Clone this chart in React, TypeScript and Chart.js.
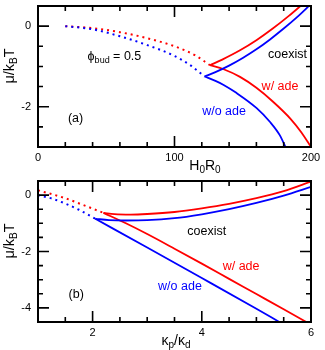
import React, { useEffect, useRef } from 'react';
import { Chart, registerables } from 'chart.js';

Chart.register(...registerables);

const RED = '#ff0000';
const BLUE = '#0000ff';
const FONT = '"Liberation Sans", Arial, Helvetica, sans-serif';

// ---------- Panel (a): mu/kBT vs H0R0 ----------
const aXTickValues = [0, 100, 200];
const aYTickValues = [0, -2];

const aRedDotX = [20, 40, 60, 80, 100, 115, 126];
const aRedDotY = [0, -0.05, -0.15, -0.3, -0.5, -0.72, -0.97];
const aBlueDotX = [20, 40, 60, 80, 100, 112, 122];
const aBlueDotY = [0, -0.08, -0.25, -0.47, -0.74, -0.98, -1.25];

const aRedUpX = [126, 135, 148, 160, 172, 184, 197];
const aRedUpY = [-0.97, -0.83, -0.6, -0.35, -0.06, 0.26, 0.64];
const aBlueUpX = [122, 130, 140, 150, 160, 170, 180, 190, 200];
const aBlueUpY = [-1.25, -1.14, -0.98, -0.79, -0.575, -0.33, -0.06, 0.23, 0.55];
const aRedLowX = [126, 136, 148, 160, 172, 185, 193, 200];
const aRedLowY = [-0.97, -1.07, -1.26, -1.53, -1.87, -2.3, -2.64, -3.0];
const aBlueLowX = [122, 130, 136, 145, 160, 170, 177, 182];
const aBlueLowY = [-1.25, -1.36, -1.46, -1.65, -2.03, -2.38, -2.7, -3.05];

// ---------- Panel (b): mu/kBT vs kappa_p/kappa_d ----------
const bXTickValues = [2, 4, 6];
const bYTickValues = [0, -2, -4];

const bRedDotX = [1, 1.5, 1.8, 2.2];
const bRedDotY = [0.17, -0.11, -0.33, -0.63];
const bBlueDotX = [1, 1.25, 1.5, 1.75, 2.05];
const bBlueDotY = [0, -0.12, -0.3, -0.52, -0.84];

const bRedUpX = [2.2, 2.4, 2.7, 3.0, 3.5, 4.0, 4.5, 5.0, 5.5, 6.0];
const bRedUpY = [-0.63, -0.675, -0.69, -0.67, -0.6, -0.47, -0.31, -0.11, 0.14, 0.48];
const bBlueUpX = [2.05, 2.3, 2.6, 3.0, 3.5, 4.0, 4.5, 5.0, 5.5, 6.0];
const bBlueUpY = [-0.84, -0.885, -0.9, -0.89, -0.82, -0.68, -0.5, -0.28, -0.02, 0.29];
const bRedLowX = [2.2, 2.6, 3.0, 3.5, 4.0, 4.5, 5.0, 5.5, 5.95];
const bRedLowY = [-0.63, -0.99, -1.38, -1.9, -2.43, -2.97, -3.51, -4.05, -4.54];
const bBlueLowX = [2.05, 3.0, 4.0, 5.0, 5.42];
const bBlueLowY = [-0.84, -1.86, -2.94, -4.03, -4.5];

type Seg = { t: string; sub?: boolean };
type Label = { segs: Seg[]; x: number; y: number; color: string; size: number };

const pts = (xs: number[], ys: number[]) => xs.map((x, i) => ({ x, y: ys[i] }));

function drawRich(ctx: CanvasRenderingContext2D, segs: Seg[], x: number, y: number, size: number, color: string, rotate = false) {
  const subSize = Math.round(size * 0.72);
  const f = (s: number) => `${s}px ${FONT}`;
  let w = 0;
  for (const s of segs) {
    ctx.font = f(s.sub ? subSize : size);
    w += ctx.measureText(s.t).width;
  }
  ctx.save();
  ctx.translate(x, y);
  if (rotate) ctx.rotate(-Math.PI / 2);
  ctx.fillStyle = color;
  ctx.textAlign = 'left';
  ctx.textBaseline = 'middle';
  let cx = -w / 2;
  for (const s of segs) {
    ctx.font = f(s.sub ? subSize : size);
    ctx.fillText(s.t, cx, s.sub ? size * 0.32 : 0);
    cx += ctx.measureText(s.t).width;
  }
  ctx.restore();
}

const framePlugin = {
  id: 'frame',
  afterDraw(chart: any) {
    const o = chart.options.plugins.frame;
    const { ctx, chartArea: ca } = chart;
    const xs = chart.scales.x;
    const ys = chart.scales.y;
    ctx.save();
    ctx.strokeStyle = '#000';
    ctx.lineWidth = 1.6;
    ctx.beginPath();
    for (const t of xs.ticks) {
      const px = xs.getPixelForValue(t.value);
      const len = o.xMajor.includes(t.value) ? 11 : 5;
      ctx.moveTo(px, ca.bottom);
      ctx.lineTo(px, ca.bottom - len);
      ctx.moveTo(px, ca.top);
      ctx.lineTo(px, ca.top + len);
    }
    for (const t of ys.ticks) {
      const py = ys.getPixelForValue(t.value);
      const len = o.yMajor.includes(t.value) ? 11 : 5;
      ctx.moveTo(ca.left, py);
      ctx.lineTo(ca.left + len, py);
      ctx.moveTo(ca.right, py);
      ctx.lineTo(ca.right - len, py);
    }
    ctx.stroke();
    ctx.lineWidth = 2;
    ctx.strokeRect(ca.left, ca.top, ca.right - ca.left, ca.bottom - ca.top);

    // tick labels
    ctx.fillStyle = '#000';
    ctx.font = `11px ${FONT}`;
    ctx.textAlign = 'center';
    ctx.textBaseline = 'middle';
    for (const t of xs.ticks) {
      if (o.xMajor.includes(t.value)) ctx.fillText(String(t.value), xs.getPixelForValue(t.value), ca.bottom + 11);
    }
    ctx.textAlign = 'right';
    for (const t of ys.ticks) {
      if (o.yMajor.includes(t.value)) ctx.fillText(String(t.value), ca.left - 7, ys.getPixelForValue(t.value));
    }

    for (const l of o.labels as Label[]) {
      drawRich(ctx, l.segs, xs.getPixelForValue(l.x), ys.getPixelForValue(l.y), l.size, l.color);
    }
    // axis titles
    drawRich(ctx, o.xTitle, o.xTitleX, o.xTitleY, 14, '#000');
    drawRich(ctx, o.yTitle, o.yTitleX, o.yTitleY, 14.5, '#000', true);
    ctx.restore();
  },
};

function lineDs(data: { x: number; y: number }[], color: string, dotted: boolean) {
  return {
    data,
    borderColor: color,
    backgroundColor: color,
    borderWidth: dotted ? 2 : 1.8,
    borderDash: dotted ? [2, 4] : [],
    pointRadius: 0,
    fill: false,
    cubicInterpolationMode: 'monotone' as const,
  };
}

function buildConfig(p: any): any {
  return {
    type: 'line',
    data: {
      datasets: [
        lineDs(pts(p.blueDot[0], p.blueDot[1]), BLUE, true),
        lineDs(pts(p.redDot[0], p.redDot[1]), RED, true),
        lineDs(pts(p.blueUp[0], p.blueUp[1]), BLUE, false),
        lineDs(pts(p.blueLow[0], p.blueLow[1]), BLUE, false),
        lineDs(pts(p.redUp[0], p.redUp[1]), RED, false),
        lineDs(pts(p.redLow[0], p.redLow[1]), RED, false),
      ],
    },
    options: {
      responsive: false,
      animation: false,
      layout: { padding: { top: 6, right: 14, left: 0, bottom: 0 } },
      scales: {
        x: {
          type: 'linear',
          min: p.xMin,
          max: p.xMax,
          grid: { display: false, drawTicks: false },
          border: { display: false },
          afterFit: (s: any) => { s.height = 28; },
          ticks: { display: false, stepSize: p.xStep, autoSkip: false },
        },
        y: {
          type: 'linear',
          min: p.yMin,
          max: p.yMax,
          grid: { display: false, drawTicks: false },
          border: { display: false },
          afterFit: (s: any) => { s.width = 38; },
          ticks: { display: false, stepSize: 0.5, autoSkip: false },
        },
      },
      plugins: {
        legend: { display: false },
        tooltip: { enabled: false },
        frame: {
          xMajor: p.xMajor,
          yMajor: p.yMajor,
          labels: p.labels,
          xTitle: p.xTitle,
          xTitleX: p.xTitleX,
          xTitleY: 166,
          yTitle: [{ t: 'μ/k' }, { t: 'B', sub: true }, { t: 'T' }],
          yTitleX: 10,
          yTitleY: 66,
        },
      },
    },
    plugins: [framePlugin],
  };
}

const panelA = {
  xMin: 0, xMax: 200, xStep: 20, yMin: -3, yMax: 0.5,
  xMajor: aXTickValues, yMajor: aYTickValues,
  redDot: [aRedDotX, aRedDotY], blueDot: [aBlueDotX, aBlueDotY],
  redUp: [aRedUpX, aRedUpY], blueUp: [aBlueUpX, aBlueUpY],
  redLow: [aRedLowX, aRedLowY], blueLow: [aBlueLowX, aBlueLowY],
  xTitle: [{ t: 'H' }, { t: '0', sub: true }, { t: 'R' }, { t: '0', sub: true }],
  xTitleX: 205,
  labels: [
    { segs: [{ t: 'ϕ' }, { t: 'bud', sub: true }, { t: ' = 0.5' }], x: 56, y: -0.76, color: '#000', size: 12.5 },
    { segs: [{ t: 'coexist' }], x: 182.8, y: -0.7, color: '#000', size: 12.5 },
    { segs: [{ t: 'w/ ade' }], x: 177.3, y: -1.5, color: RED, size: 12.5 },
    { segs: [{ t: 'w/o ade' }], x: 136.3, y: -2.12, color: BLUE, size: 12.5 },
    { segs: [{ t: '(a)' }], x: 27.5, y: -2.3, color: '#000', size: 12.5 },
  ],
};

const panelB = {
  xMin: 1, xMax: 6, xStep: 0.5, yMin: -4.5, yMax: 0.5,
  xMajor: bXTickValues, yMajor: bYTickValues,
  redDot: [bRedDotX, bRedDotY], blueDot: [bBlueDotX, bBlueDotY],
  redUp: [bRedUpX, bRedUpY], blueUp: [bBlueUpX, bBlueUpY],
  redLow: [bRedLowX, bRedLowY], blueLow: [bBlueLowX, bBlueLowY],
  xTitle: [{ t: 'κ' }, { t: 'p', sub: true }, { t: '/κ' }, { t: 'd', sub: true }],
  xTitleX: 176,
  labels: [
    { segs: [{ t: 'coexist' }], x: 4.09, y: -1.29, color: '#000', size: 12.5 },
    { segs: [{ t: 'w/ ade' }], x: 4.72, y: -2.52, color: RED, size: 12.5 },
    { segs: [{ t: 'w/o ade' }], x: 3.6, y: -3.24, color: BLUE, size: 12.5 },
    { segs: [{ t: '(b)' }], x: 1.7, y: -3.51, color: '#000', size: 12.5 },
  ],
};

export default function App() {
  const refA = useRef<HTMLCanvasElement>(null);
  const refB = useRef<HTMLCanvasElement>(null);
  useEffect(() => {
    const a = new Chart(refA.current!, buildConfig(panelA));
    const b = new Chart(refB.current!, buildConfig(panelB));
    return () => {
      a.destroy();
      b.destroy();
    };
  }, []);
  return (
    <div style={{ position: 'absolute', left: 0, top: 0, width: 325, height: 350, background: '#fff' }}>
      <canvas ref={refA} width={325} height={175} style={{ display: 'block', width: 325, height: 175 }} />
      <canvas ref={refB} width={325} height={175} style={{ display: 'block', width: 325, height: 175 }} />
    </div>
  );
}
